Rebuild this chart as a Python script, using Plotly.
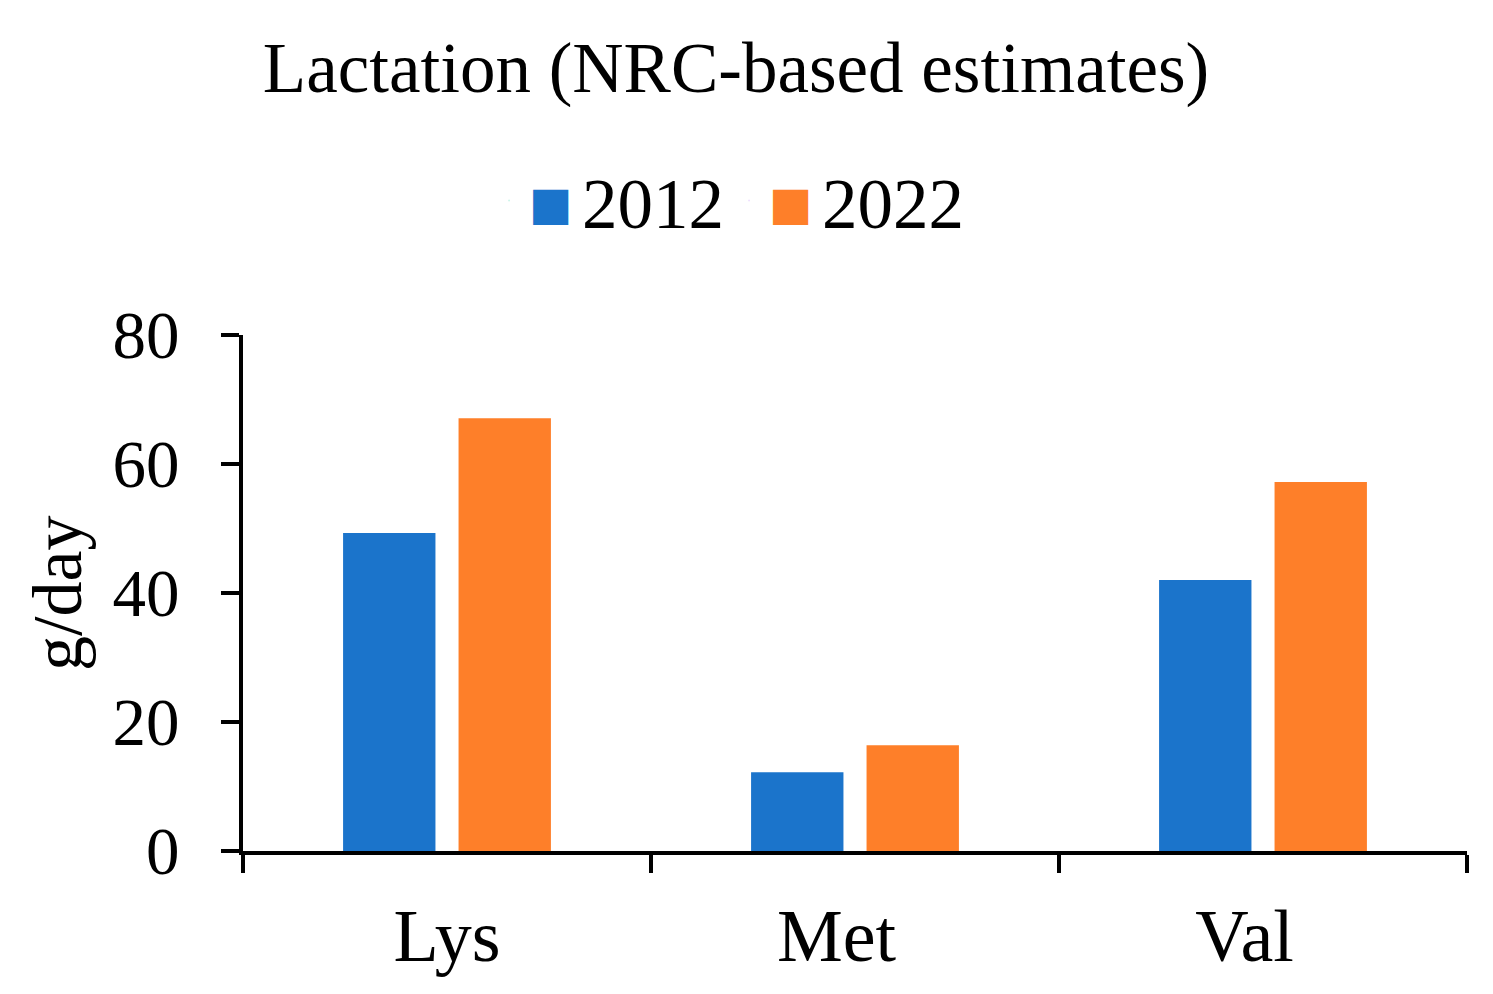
import plotly.graph_objects as go

categories = ["Lys", "Met", "Val"]
category_labels = ["Lys", "Met\u00a0\u00a0", "Val\u00a0\u00a0"]
series_names = ["2012", "2022"]
values_2012 = [49.3, 12.2, 42.0]
values_2022 = [67.1, 16.4, 57.2]
colors = ["#1B74CB", "#FE7F29"]
y_ticks = [0, 20, 40, 60, 80]

FONT = "Liberation Serif"

fig = go.Figure()
for name, vals, col in zip(series_names, [values_2012, values_2022], colors):
    fig.add_trace(go.Bar(x=categories, y=vals, name=name, showlegend=False,
                         marker=dict(color=col, line=dict(width=0))))
# legend entries with large square swatches
for name, col in zip(series_names, colors):
    fig.add_trace(go.Scatter(
        x=[None], y=[None], mode="markers", marker=dict(opacity=0, size=1),
        name=(f"<span style='color:{col};font-size:46px;font-family:DejaVu Sans;"
              f"baseline-shift:9px'>■</span>"
              f"<span style='font-size:30px;font-family:DejaVu Sans'> </span>{name}"),
        showlegend=True, hoverinfo="skip"))

fig.update_layout(
    width=1493, height=994,
    paper_bgcolor="white", plot_bgcolor="white",
    margin=dict(l=235, r=34, t=327, b=151, autoexpand=False),
    barmode="group", bargap=0.434, bargroupgap=0.2,
    font=dict(family=FONT, color="black", size=66),
    title=dict(text="Lactation (NRC-based estimates)", x=0.4876, xanchor="center",
               y=0.94, yanchor="middle", yref="container", font=dict(family=FONT, size=71, color="black")),
    legend=dict(orientation="h", x=0.4833, xanchor="center", xref="container", y=1.26, yanchor="middle",
                font=dict(family=FONT, size=71, color="black"), itemclick=False, tracegroupgap=0,
                itemwidth=30, bgcolor="rgba(0,0,0,0)"),
    showlegend=True,
    annotations=[dict(text="g/day", xref="paper", yref="paper", x=-0.152, y=0.5,
                      xanchor="center", yanchor="middle", textangle=-90, showarrow=False,
                      font=dict(family=FONT, size=70, color="black"))],
)
fig.update_xaxes(
    showline=True, linecolor="black", linewidth=4, ticks="outside", ticklen=18, tickwidth=4,
    tickcolor="black", tickson="boundaries", showgrid=False, zeroline=False,
    tickvals=categories, ticktext=category_labels,
    tickfont=dict(family=FONT, size=74, color="black"), ticklabelstandoff=17,
)
fig.update_yaxes(
    range=[0, 80], tickvals=y_ticks, showline=True, linecolor="black", linewidth=4,
    ticks="outside", ticklen=18, tickwidth=4, tickcolor="black", showgrid=False, zeroline=False,
    tickfont=dict(family=FONT, size=67, color="black"), ticklabelstandoff=28,
)

fig.write_html("out.html")
